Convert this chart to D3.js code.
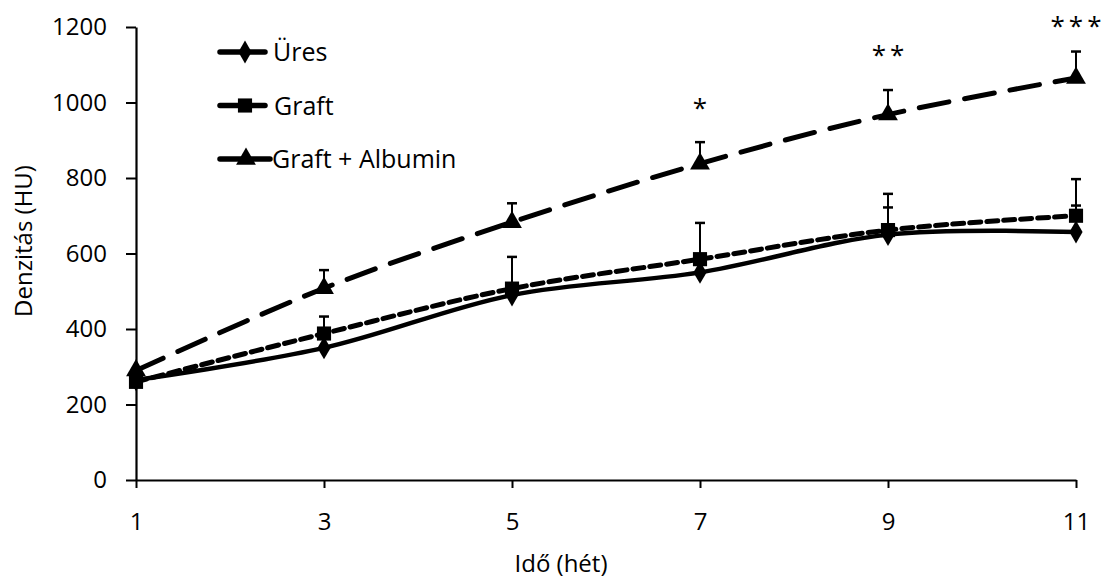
<!DOCTYPE html>
<html>
<head>
<meta charset="utf-8">
<script src="https://cdn.jsdelivr.net/npm/d3@7"></script>
<style>
  body { margin: 0; background: #fff; }
  text { font-family: "Open Sans", "DejaVu Sans", sans-serif; fill: #000; }
</style>
</head>
<body>
<script>
// adatok
const weeks = [1, 3, 5, 7, 9, 11];
const yTicks = [0, 200, 400, 600, 800, 1000, 1200];
const seriesNames = ["Üres", "Graft", "Graft + Albumin"];
const uresValues = [265, 350, 490, 550, 650, 657];
const uresErr = [0, 0, 0, 0, 72, 70];
const graftValues = [260, 388, 507, 585, 662, 700];
const graftErr = [0, 45, 84, 96, 96, 97];
const albuminValues = [290, 508, 683, 838, 968, 1065];
const albuminErr = [0, 48, 50, 57, 65, 70];
const starLabels = ["*", "**", "***"];
const starWeeks = [7, 9, 11];
const starLevels = [1000, 1140, 1215];

const series = [
  { name: seriesNames[0], values: uresValues, err: uresErr, dash: null, sym: d3.symbolDiamond, size: 150 },
  { name: seriesNames[1], values: graftValues, err: graftErr, dash: "11,6", sym: d3.symbolSquare, size: 200 },
  { name: seriesNames[2], values: albuminValues, err: albuminErr, dash: "30,16", sym: d3.symbolTriangle, size: 170 }
];

const W = 1108, H = 583;
const margin = { top: 27, right: 32, bottom: 103, left: 136 };
const width = W - margin.left - margin.right,
      height = H - margin.top - margin.bottom;

const svg = d3.select("body").append("svg")
  .attr("width", W).attr("height", H)
  .append("g")
  .attr("transform", "translate(" + margin.left + "," + margin.top + ")");

const x = d3.scaleLinear().domain([1, 11]).range([0, width]);
const y = d3.scaleLinear().domain([0, 1200]).range([height, 0]);

// tengelyek
const yAxis = svg.append("g")
  .call(d3.axisLeft(y).tickValues(yTicks).tickFormat(d3.format("d"))
    .tickSize(8).tickPadding(21).tickSizeOuter(0));
const xAxis = svg.append("g")
  .attr("transform", "translate(0," + height + ")")
  .call(d3.axisBottom(x).tickValues(weeks).tickFormat(d3.format("d"))
    .tickSize(8).tickPadding(25).tickSizeOuter(0));

[xAxis, yAxis].forEach(a => {
  a.select(".domain").attr("stroke-width", 2.2);
  a.selectAll(".tick line").attr("stroke-width", 2);
  a.selectAll("text").style("font-size", "24px").style("font-family", "'Open Sans', sans-serif");
});
yAxis.selectAll(".tick line").attr("x2", -10).attr("x1", 0);

// hibasávok
series.forEach(s => {
  const g = svg.append("g");
  s.values.forEach((v, i) => {
    if (!s.err[i]) return;
    const cx = x(weeks[i]), top = y(v + s.err[i]);
    g.append("line").attr("x1", cx).attr("x2", cx).attr("y1", y(v)).attr("y2", top)
      .attr("stroke", "#000").attr("stroke-width", 2);
    g.append("line").attr("x1", cx - 5).attr("x2", cx + 5).attr("y1", top).attr("y2", top)
      .attr("stroke", "#000").attr("stroke-width", 2.5);
  });
});

// vonalak
const line = d3.line()
  .x((d, i) => x(weeks[i]))
  .y(d => y(d))
  .curve(d3.curveCatmullRom.alpha(0.5));

series.forEach(s => {
  svg.append("path")
    .datum(s.values)
    .attr("fill", "none")
    .attr("stroke", "#000")
    .attr("stroke-width", s.dash ? 5 : 4.5)
    .attr("stroke-linecap", "round")
    .attr("stroke-dasharray", s.dash)
    .attr("d", line);

  svg.selectAll(null)
    .data(s.values)
    .enter()
    .append("path")
    .attr("transform", (d, i) => "translate(" + x(weeks[i]) + "," + y(d) + ")")
    .attr("d", d3.symbol().type(s.sym).size(s.size))
    .attr("fill", "#000");
});

// szignifikancia
svg.selectAll(null)
  .data(starLabels)
  .enter()
  .append("text")
  .attr("x", (d, i) => x(starWeeks[i]) + 2)
  .attr("y", (d, i) => y(starLevels[i]) + 14)
  .attr("text-anchor", "middle")
  .style("font-size", "26px")
  .style("letter-spacing", "4px")
  .text(d => d);

// jelmagyarázat
const legend = svg.append("g").attr("transform", "translate(84,25)");
series.forEach((s, i) => {
  const g = legend.append("g").attr("transform", "translate(0," + (i * 53.5) + ")");
  g.append("line").attr("x1", 0).attr("x2", i === 2 ? 50 : 45).attr("y1", 0).attr("y2", 0)
    .attr("stroke", "#000").attr("stroke-width", 5.5).attr("stroke-linecap", "round");
  g.append("path")
    .attr("transform", "translate(" + (i === 2 ? 26 : 25) + ",0)")
    .attr("d", d3.symbol().type(s.sym).size(s.size))
    .attr("fill", "#000");
  g.append("text")
    .attr("x", i === 0 ? 53 : (i === 1 ? 54 : 52))
    .attr("y", 9)
    .style("font-size", "25px")
    .text(s.name);
});

// tengelycímek
svg.append("text")
  .attr("x", 561 - margin.left)
  .attr("y", 572 - margin.top)
  .attr("text-anchor", "middle")
  .style("font-size", "24px")
  .text("Idő (hét)");

svg.append("text")
  .attr("transform", "rotate(-90)")
  .attr("x", -(241 - margin.top))
  .attr("y", 32 - margin.left)
  .attr("text-anchor", "middle")
  .style("font-size", "24px")
  .text("Denzitás (HU)");
</script>
</body>
</html>
